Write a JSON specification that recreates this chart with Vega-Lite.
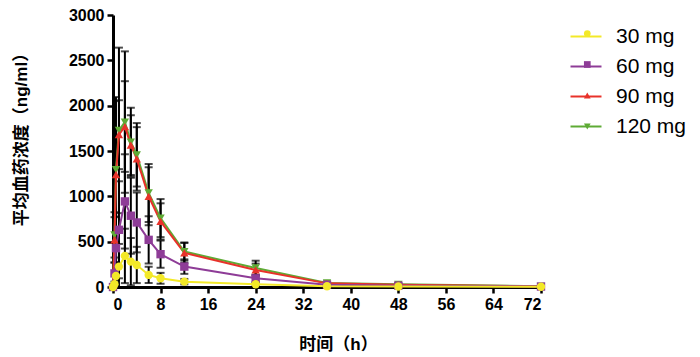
{
  "$schema": "https://vega.github.io/schema/vega-lite/v6.json",
  "autosize": {"type": "none"},
  "width": 428,
  "height": 272,
  "padding": {"left": 113, "top": 15, "right": 159, "bottom": 70},
  "background": "white",
  "config": {"view": {"stroke": null}, "font": "Liberation Sans, Noto Sans CJK SC"},
  "data": {"values": [
    {"dose": "120 mg", "time": 0, "conc": 0, "sd": 0},
    {"dose": "120 mg", "time": 0.25, "conc": 575, "sd": 250},
    {"dose": "120 mg", "time": 0.5, "conc": 1295, "sd": 800},
    {"dose": "120 mg", "time": 1, "conc": 1727, "sd": 913},
    {"dose": "120 mg", "time": 2, "conc": 1819, "sd": 780},
    {"dose": "120 mg", "time": 3, "conc": 1598, "sd": 380},
    {"dose": "120 mg", "time": 4, "conc": 1458, "sd": 350},
    {"dose": "120 mg", "time": 6, "conc": 1037, "sd": 320},
    {"dose": "120 mg", "time": 8, "conc": 760, "sd": 210},
    {"dose": "120 mg", "time": 12, "conc": 391, "sd": 100},
    {"dose": "120 mg", "time": 24, "conc": 210, "sd": 80},
    {"dose": "120 mg", "time": 36, "conc": 45, "sd": 15},
    {"dose": "120 mg", "time": 48, "conc": 30, "sd": 10},
    {"dose": "120 mg", "time": 72, "conc": 8, "sd": 3},
    {"dose": "90 mg", "time": 0, "conc": 0, "sd": 0},
    {"dose": "90 mg", "time": 0.25, "conc": 520, "sd": 250},
    {"dose": "90 mg", "time": 0.5, "conc": 1240, "sd": 810},
    {"dose": "90 mg", "time": 1, "conc": 1680, "sd": 380},
    {"dose": "90 mg", "time": 2, "conc": 1770, "sd": 500},
    {"dose": "90 mg", "time": 3, "conc": 1565, "sd": 330},
    {"dose": "90 mg", "time": 4, "conc": 1413, "sd": 350},
    {"dose": "90 mg", "time": 6, "conc": 1000, "sd": 320},
    {"dose": "90 mg", "time": 8, "conc": 723, "sd": 200},
    {"dose": "90 mg", "time": 12, "conc": 376, "sd": 110},
    {"dose": "90 mg", "time": 24, "conc": 188, "sd": 70},
    {"dose": "90 mg", "time": 36, "conc": 40, "sd": 15},
    {"dose": "90 mg", "time": 48, "conc": 25, "sd": 10},
    {"dose": "90 mg", "time": 72, "conc": 6, "sd": 3},
    {"dose": "60 mg", "time": 0, "conc": 0, "sd": 0},
    {"dose": "60 mg", "time": 0.25, "conc": 150, "sd": 120},
    {"dose": "60 mg", "time": 0.5, "conc": 428, "sd": 350},
    {"dose": "60 mg", "time": 1, "conc": 631, "sd": 535},
    {"dose": "60 mg", "time": 2, "conc": 944, "sd": 520},
    {"dose": "60 mg", "time": 3, "conc": 786, "sd": 420},
    {"dose": "60 mg", "time": 4, "conc": 712, "sd": 330},
    {"dose": "60 mg", "time": 6, "conc": 520, "sd": 260},
    {"dose": "60 mg", "time": 8, "conc": 362, "sd": 150},
    {"dose": "60 mg", "time": 12, "conc": 225, "sd": 80},
    {"dose": "60 mg", "time": 24, "conc": 96, "sd": 40},
    {"dose": "60 mg", "time": 36, "conc": 25, "sd": 10},
    {"dose": "60 mg", "time": 48, "conc": 15, "sd": 8},
    {"dose": "60 mg", "time": 72, "conc": 5, "sd": 3},
    {"dose": "30 mg", "time": 0, "conc": 0, "sd": 0},
    {"dose": "30 mg", "time": 0.25, "conc": 30, "sd": 30},
    {"dose": "30 mg", "time": 0.5, "conc": 122, "sd": 150},
    {"dose": "30 mg", "time": 1, "conc": 225, "sd": 250},
    {"dose": "30 mg", "time": 2, "conc": 343, "sd": 300},
    {"dose": "30 mg", "time": 3, "conc": 280, "sd": 260},
    {"dose": "30 mg", "time": 4, "conc": 243, "sd": 200},
    {"dose": "30 mg", "time": 6, "conc": 133, "sd": 90},
    {"dose": "30 mg", "time": 8, "conc": 96, "sd": 60},
    {"dose": "30 mg", "time": 12, "conc": 59, "sd": 30},
    {"dose": "30 mg", "time": 24, "conc": 30, "sd": 15},
    {"dose": "30 mg", "time": 36, "conc": 8, "sd": 5},
    {"dose": "30 mg", "time": 48, "conc": 5, "sd": 4},
    {"dose": "30 mg", "time": 72, "conc": 3, "sd": 2}
  ]},
  "encoding": {
    "x": {
      "field": "time", "type": "quantitative",
      "scale": {"domain": [0, 72], "nice": false},
      "axis": {
        "values": [0, 8, 16, 24, 32, 40, 48, 56, 64, 72], "format": "d",
        "title": "时间（h）", "grid": false,
        "domainColor": "black", "domainWidth": 3, "tickColor": "black", "tickWidth": 2.5, "tickSize": 6,
        "labelFont": "Liberation Sans", "labelFontSize": 16, "labelFontWeight": "bold", "labelColor": "black", "labelPadding": 3,
        "titleFont": "Liberation Sans, Noto Sans CJK SC", "titleFontSize": 17, "titleFontWeight": "bold", "titleColor": "black",
        "titleX": 225, "titleY": 57, "titleBaseline": "middle", "titleAlign": "center"
      }
    },
    "y": {
      "field": "conc", "type": "quantitative",
      "scale": {"domain": [0, 3000], "nice": false, "clamp": true},
      "axis": {
        "values": [0, 500, 1000, 1500, 2000, 2500, 3000], "format": "d",
        "title": "平均血药浓度（ng/ml）", "grid": false,
        "domainColor": "black", "domainWidth": 3, "tickColor": "black", "tickWidth": 2.5, "tickSize": 6,
        "labelFont": "Liberation Sans", "labelFontSize": 16, "labelFontWeight": "bold", "labelColor": "black", "labelPadding": 3,
        "titleFont": "Liberation Sans, Noto Sans CJK SC", "titleFontSize": 17, "titleFontWeight": "bold", "titleColor": "black",
        "titleX": -92, "titleY": 120, "titleBaseline": "middle", "titleAlign": "center", "titleAngle": -90
      }
    }
  },
  "layer": [
    {
      "mark": {"type": "errorbar", "ticks": {"size": 8}, "color": "black", "thickness": 2},
      "encoding": {"yError": {"field": "sd"}}
    },
    {
      "mark": {"type": "line", "strokeWidth": 2},
      "encoding": {
        "stroke": {
          "field": "dose", "type": "nominal",
          "sort": ["30 mg", "60 mg", "90 mg", "120 mg"],
          "scale": {"range": ["#f3e928", "#8e3c97", "#e8322a", "#5eab35"]},
          "legend": {
            "orient": "none", "legendX": 456.5, "legendY": 5, "title": null,
            "symbolType": "stroke", "symbolSize": 961, "symbolStrokeWidth": 2,
            "labelFont": "Liberation Sans", "labelFontSize": 21, "labelColor": "black", "labelOffset": 13.5, "rowPadding": 3
          }
        }
      }
    },
    {
      "mark": {"type": "point", "filled": true, "size": 70, "opacity": 1},
      "encoding": {
        "fill": {
          "field": "dose", "type": "nominal",
          "scale": {"domain": ["30 mg", "60 mg", "90 mg", "120 mg"], "range": ["#f3e928", "#8e3c97", "#e8322a", "#5eab35"]},
          "legend": {
            "orient": "none", "legendX": 470.8, "legendY": 15, "title": null,
            "symbolSize": 45, "symbolStrokeWidth": 0,
            "labelExpr": "''", "labelFontSize": 1, "rowPadding": 24
          }
        },
        "shape": {
          "field": "dose", "type": "nominal",
          "scale": {"domain": ["30 mg", "60 mg", "90 mg", "120 mg"], "range": ["circle", "square", "triangle-up", "triangle-down"]},
          "legend": {
            "orient": "none", "legendX": 470.8, "legendY": 15, "title": null,
            "symbolSize": 45, "symbolStrokeWidth": 0,
            "labelExpr": "''", "labelFontSize": 1, "rowPadding": 24
          }
        }
      }
    }
  ]
}
